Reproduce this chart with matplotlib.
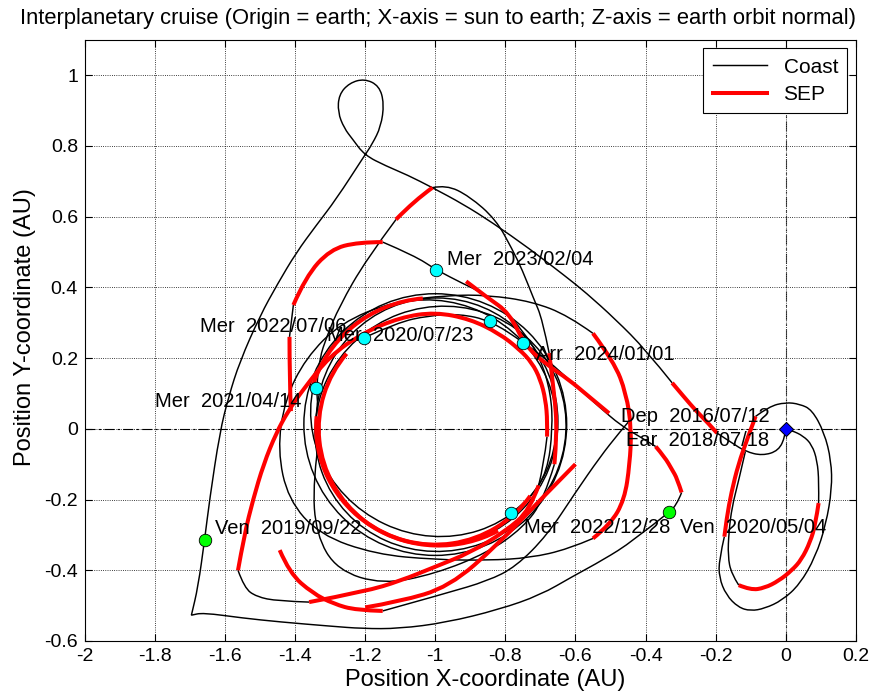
import matplotlib.pyplot as plt
from matplotlib.path import Path
from matplotlib.patches import PathPatch, Ellipse, Arc

plt.rcParams['font.family'] = ['Liberation Sans', 'DejaVu Sans']

# ---- trajectory pieces (AU, earth-fixed rotating frame) ----
# coast arcs
earth_outer = [(-0.175,-0.305),(-0.19,-0.37),(-0.19,-0.42),(-0.17,-0.47),(-0.135,-0.505),(-0.1,-0.515),
               (-0.06,-0.508),(-0.01,-0.485),(0.04,-0.44),(0.085,-0.362),(0.115,-0.27),(0.132,-0.17),
               (0.13,-0.09),(0.11,-0.01),(0.075,0.054),(0.04,0.07),(0,0.075),(-0.048,0.063),(-0.086,0.035)]
earth_inner_a = [(0,0),(0.018,-0.005),(0.05,-0.02),(0.075,-0.045),(0.09,-0.09),(0.095,-0.15),(0.094,-0.21)]
earth_inner_b = [(-0.134,-0.442),(-0.155,-0.41),(-0.165,-0.36),(-0.162,-0.29),(-0.153,-0.22),(-0.135,-0.15),(-0.115,-0.064)]
flyby_hook = [(-0.196,-0.012),(-0.153,-0.04),(-0.115,-0.064),(-0.067,-0.076),(-0.02,-0.062),(-0.001,-0.02),(0,0)]
big_loop = [(-0.324,0.13),(-0.4,0.224),(-0.485,0.309),(-0.57,0.385),(-0.628,0.431),(-0.732,0.51),(-0.837,0.583),
            (-0.92,0.635),(-1.008,0.682),(-1.08,0.718),(-1.14,0.743),(-1.202,0.774),(-1.236,0.819),(-1.26,0.85),
            (-1.278,0.895),(-1.275,0.945),(-1.245,0.978),(-1.202,0.99),(-1.16,0.97),(-1.146,0.92),(-1.155,0.855),
            (-1.18,0.805),(-1.205,0.768),(-1.283,0.649),(-1.34,0.575),(-1.397,0.498),(-1.45,0.41),(-1.5,0.32),
            (-1.558,0.19),(-1.59,0.09),(-1.615,-0.01),(-1.644,-0.2),(-1.658,-0.312),(-1.677,-0.447),(-1.696,-0.527),
            (-1.696,-0.527),(-1.663,-0.52),(-1.55,-0.535),(-1.444,-0.546),(-1.3,-0.558),(-1.207,-0.565),(-1.103,-0.565),
            (-0.97,-0.548),(-0.818,-0.511),(-0.7,-0.47),(-0.609,-0.418),(-0.52,-0.37),(-0.438,-0.319),(-0.331,-0.234)]
ven2_stub = [(-0.331,-0.236),(-0.31,-0.215),(-0.297,-0.18)]
to_mercury = [(-0.371,-0.05),(-0.42,-0.02),(-0.471,0.01),(-0.53,0.06),(-0.58,0.105),(-0.62,0.14),(-0.675,0.19),
              (-0.746,0.243),(-0.843,0.306),(-0.93,0.325),(-1.02,0.32),(-1.11,0.3),(-1.202,0.258)]
loop_east = [(-0.55,0.27),(-0.62,0.32),(-0.724,0.36),(-0.85,0.378),(-0.96,0.378),(-1.12,0.36),(-1.27,0.3),
             (-1.37,0.2),(-1.43,0.08),(-1.45,-0.06),(-1.42,-0.2),(-1.33,-0.3),(-1.17,-0.355),(-1.0,-0.37),
             (-0.85,-0.372),(-0.73,-0.365),(-0.62,-0.34),(-0.55,-0.31)]
loop_north_a = [(-1.33,-0.01),(-1.335,0.06),(-1.339,0.116),(-1.33,0.2),(-1.31,0.26),(-1.274,0.346),(-1.197,0.479),(-1.112,0.592)]
loop_north_b = [(-1.008,0.682),(-0.969,0.69),(-0.903,0.658),(-0.827,0.592),(-0.78,0.507),(-0.752,0.45),(-0.72,0.37),
                (-0.694,0.309),(-0.675,0.214)]
loop_north_c = [(-0.66,-0.1),(-0.69,-0.2),(-0.75,-0.28),(-0.85,-0.35),(-1.0,-0.41),(-1.15,-0.44),(-1.28,-0.4),
                (-1.34,-0.3),(-1.35,-0.15),(-1.33,-0.01)]
loop_west_a = [(-1.405,0.35),(-1.416,0.26)]
loop_west_b = [(-1.15,0.528),(-1.06,0.49),(-0.998,0.45),(-0.92,0.41),(-0.866,0.385),(-0.8,0.33),(-0.752,0.28),
               (-0.7,0.2),(-0.67,0.1),(-0.665,0.0),(-0.68,-0.12),(-0.73,-0.2),(-0.783,-0.238)]
loop_sw_corner = [(-1.36,-0.49),(-1.45,-0.487),(-1.51,-0.475),(-1.545,-0.45),(-1.563,-0.4)]
loop_sw_link = [(-0.681,-0.022),(-0.69,-0.1),(-0.705,-0.16)]
bottom_return = [(-1.15,-0.515),(-0.969,-0.465),(-0.85,-0.43),(-0.77,-0.39),(-0.68,-0.3),(-0.6,-0.18),
                 (-0.53,-0.08),(-0.476,-0.012),(-0.44,0.03)]

# SEP (thrust) arcs
earth_outer_burn = [(-0.086,0.035),(-0.11,-0.03),(-0.135,-0.1),(-0.155,-0.18),(-0.168,-0.25),(-0.175,-0.305)]
earth_inner_burn = [(0.094,-0.21),(0.085,-0.27),(0.07,-0.32),(0.045,-0.37),(0.018,-0.4),(-0.02,-0.43),
                    (-0.06,-0.45),(-0.1,-0.456),(-0.134,-0.442)]
earth_return_burn = [(-0.324,0.13),(-0.29,0.09),(-0.255,0.05),(-0.22,0.015),(-0.196,-0.012)]
ven2_burn = [(-0.297,-0.18),(-0.31,-0.14),(-0.324,-0.116),(-0.345,-0.08),(-0.371,-0.05)]
loop_east_burn = [(-0.55,-0.31),(-0.5,-0.27),(-0.46,-0.2),(-0.445,-0.1),(-0.44,0.0),(-0.455,0.1),(-0.49,0.19),(-0.55,0.27)]
loop_north_burn_a = [(-1.112,0.592),(-1.06,0.645),(-1.008,0.682)]
loop_north_burn_b = [(-0.675,0.214),(-0.66,0.1),(-0.652,-0.01),(-0.66,-0.1)]
loop_west_burn_a = [(-1.416,0.26),(-1.416,0.14),(-1.412,0.05)]
loop_west_burn_b = [(-1.405,0.35),(-1.37,0.43),(-1.3,0.507),(-1.22,0.528),(-1.15,0.528)]
loop_sw_burn = [(-1.563,-0.4),(-1.545,-0.3),(-1.52,-0.2),(-1.49,-0.1),(-1.454,-0.012),(-1.42,0.05),(-1.378,0.11),
                (-1.302,0.205),(-1.207,0.271),(-1.1,0.315),(-1.0,0.33),(-0.9,0.31),(-0.818,0.27),(-0.76,0.225),
                (-0.724,0.187),(-0.7,0.14),(-0.685,0.082),(-0.68,0.02),(-0.681,-0.022)]
loop_sw_burn_low = [(-0.705,-0.16),(-0.73,-0.23),(-0.8,-0.29),(-0.9,-0.35),(-1.0,-0.39),(-1.1,-0.43),(-1.2,-0.46),(-1.36,-0.49)]
sw_burn_2 = [(-1.444,-0.343),(-1.416,-0.408),(-1.35,-0.465),(-1.29,-0.495),(-1.226,-0.513),(-1.15,-0.515)]
sw_burn_3 = [(-0.6,-0.1),(-0.7,-0.2),(-0.818,-0.324),(-0.96,-0.447),(-1.103,-0.489),(-1.2,-0.505)]
ne_burn = [(-0.912,0.417),(-0.85,0.37),(-0.789,0.328),(-0.742,0.233),(-0.68,0.18),(-0.62,0.14),(-0.56,0.09),(-0.504,0.044)]

coast_arcs = [earth_outer, earth_inner_a, earth_inner_b, flyby_hook, big_loop, ven2_stub, to_mercury,
              loop_east, loop_north_a, loop_north_b, loop_north_c, loop_west_a, loop_west_b,
              loop_sw_corner, loop_sw_link, bottom_return]
sep_arcs = [earth_outer_burn, earth_inner_burn, earth_return_burn, ven2_burn, loop_east_burn,
            loop_north_burn_a, loop_north_burn_b, loop_west_burn_a, loop_west_burn_b, loop_sw_burn,
            loop_sw_burn_low, sw_burn_2, sw_burn_3, ne_burn]

# near-circular orbits round the sun (centre x, centre y, width, height, tilt deg)
ring_cx = [-0.995, -1.0, -0.985, -1.005]
ring_cy = [0.02, 0.012, 0.0, 0.03]
ring_w = [0.69, 0.75, 0.72, 0.71]
ring_h = [0.70, 0.74, 0.69, 0.66]
ring_tilt = [0, 0, 20, -25]
# thrusting parts of those orbits (centre x, centre y, width, height, from deg, to deg)
ring_burn_cx = [-1.0, -0.99, -1.005]
ring_burn_cy = [0.0, 0.005, 0.02]
ring_burn_w = [0.665, 0.70, 0.72]
ring_burn_h = [0.655, 0.67, 0.70]
ring_burn_from = [140, 175, 95]
ring_burn_to = [325, 300, 165]

# events: label, x, y, marker colour
event_names = ['Dep  2016/07/12', 'Ear  2018/07/18', 'Ven  2019/09/22', 'Ven  2020/05/04', 'Mer  2020/07/23',
               'Mer  2021/04/14', 'Mer  2022/07/06', 'Mer  2022/12/28', 'Mer  2023/02/04', 'Arr  2024/01/01']
event_x = [0.0, 0.0, -1.658, -0.333, -0.843, -1.339, -1.202, -0.783, -0.998, -0.749]
event_y = [0.0, 0.0, -0.314, -0.235, 0.306, 0.116, 0.258, -0.238, 0.45, 0.244]
event_color = ['blue', 'blue', 'lime', 'lime', 'cyan', 'cyan', 'cyan', 'cyan', 'cyan', 'cyan']
# where each label sits (left edge of text, centre line)
label_x = [-0.47, -0.456, -1.63, -0.302, -1.308, -1.80, -1.672, -0.746, -0.966, -0.712]
label_y = [0.034, -0.034, -0.283, -0.278, 0.263, 0.076, 0.289, -0.278, 0.479, 0.21]


def smooth_path(pts):
    # points act as quadratic bezier controls, curve passes through the midpoints
    verts = [pts[0]]
    codes = [Path.MOVETO]
    for i in range(1, len(pts) - 1):
        mid = ((pts[i][0] + pts[i + 1][0]) / 2, (pts[i][1] + pts[i + 1][1]) / 2)
        if i == len(pts) - 2:
            mid = pts[i + 1]
        verts += [pts[i], mid]
        codes += [Path.CURVE3, Path.CURVE3]
    if len(pts) == 2:
        verts.append(pts[1])
        codes.append(Path.LINETO)
    return Path(verts, codes)


fig = plt.figure(figsize=(8.75, 6.95), dpi=100)
ax = fig.add_axes([0.097, 0.0777, 0.881, 0.865])

lw_coast, lw_sep = 1.05, 2.9
for i in range(len(ring_cx)):
    ax.add_patch(Ellipse((ring_cx[i], ring_cy[i]), ring_w[i], ring_h[i], angle=ring_tilt[i],
                         fill=False, ec='k', lw=lw_coast, zorder=2))
for arc in coast_arcs:
    ax.add_patch(PathPatch(smooth_path(arc), fill=False, ec='k', lw=lw_coast, zorder=2))
for i in range(len(ring_burn_cx)):
    ax.add_patch(Arc((ring_burn_cx[i], ring_burn_cy[i]), ring_burn_w[i], ring_burn_h[i],
                     theta1=ring_burn_from[i], theta2=ring_burn_to[i], ec='red', lw=lw_sep, zorder=3))
for arc in sep_arcs:
    ax.add_patch(PathPatch(smooth_path(arc), fill=False, ec='red', lw=lw_sep, zorder=3, capstyle='butt'))

ax.plot([], [], color='k', lw=lw_coast, label='Coast')
ax.plot([], [], color='red', lw=lw_sep, label='SEP')

ax.axhline(0, color='k', lw=0.8, dashes=(9, 3, 2, 3), zorder=1)
ax.axvline(0, color='0.35', lw=0.8, dashes=(9, 3, 2, 3), zorder=1)

for i in range(len(event_names)):
    mk = 'D' if event_color[i] == 'blue' else 'o'
    ax.plot(event_x[i], event_y[i], marker=mk, ms=9 if mk == 'o' else 7.5, mfc=event_color[i],
            mec='k', mew=0.6, ls='none', zorder=5)
    ax.text(label_x[i], label_y[i], event_names[i], fontsize=14.5, ha='left', va='center', zorder=6)

ax.set_xlim(-2, 0.2)
ax.set_ylim(-0.6, 1.1)
ax.set_xticks([-2 + 0.2 * i for i in range(12)])
ax.set_xticklabels(['-2', '-1.8', '-1.6', '-1.4', '-1.2', '-1', '-0.8', '-0.6', '-0.4', '-0.2', '0', '0.2'])
ax.set_yticks([-0.6 + 0.2 * i for i in range(9)])
ax.set_yticklabels(['-0.6', '-0.4', '-0.2', '0', '0.2', '0.4', '0.6', '0.8', '1'])
ax.tick_params(direction='in', top=True, right=True, labelsize=14, length=5, pad=5)
ax.grid(True, color='k', ls=':', lw=0.6)
ax.set_xlabel('Position X-coordinate (AU)', fontsize=17)
ax.set_ylabel('Position Y-coordinate (AU)', fontsize=17)
ax.xaxis.set_label_coords(0.519, -0.046)
ax.yaxis.set_label_coords(-0.063, 0.522)
fig.text(0.5, 0.974, 'Interplanetary cruise (Origin = earth; X-axis = sun to earth; Z-axis = earth orbit normal)',
         fontsize=15.8, ha='center', va='center')
leg = ax.legend(loc='upper right', fontsize=15, fancybox=False, framealpha=1, edgecolor='k',
                handlelength=2.6, borderaxespad=0.4, labelspacing=0.4, borderpad=0.45)
leg.get_frame().set_linewidth(0.8)

fig.savefig('out.png', dpi=100)
